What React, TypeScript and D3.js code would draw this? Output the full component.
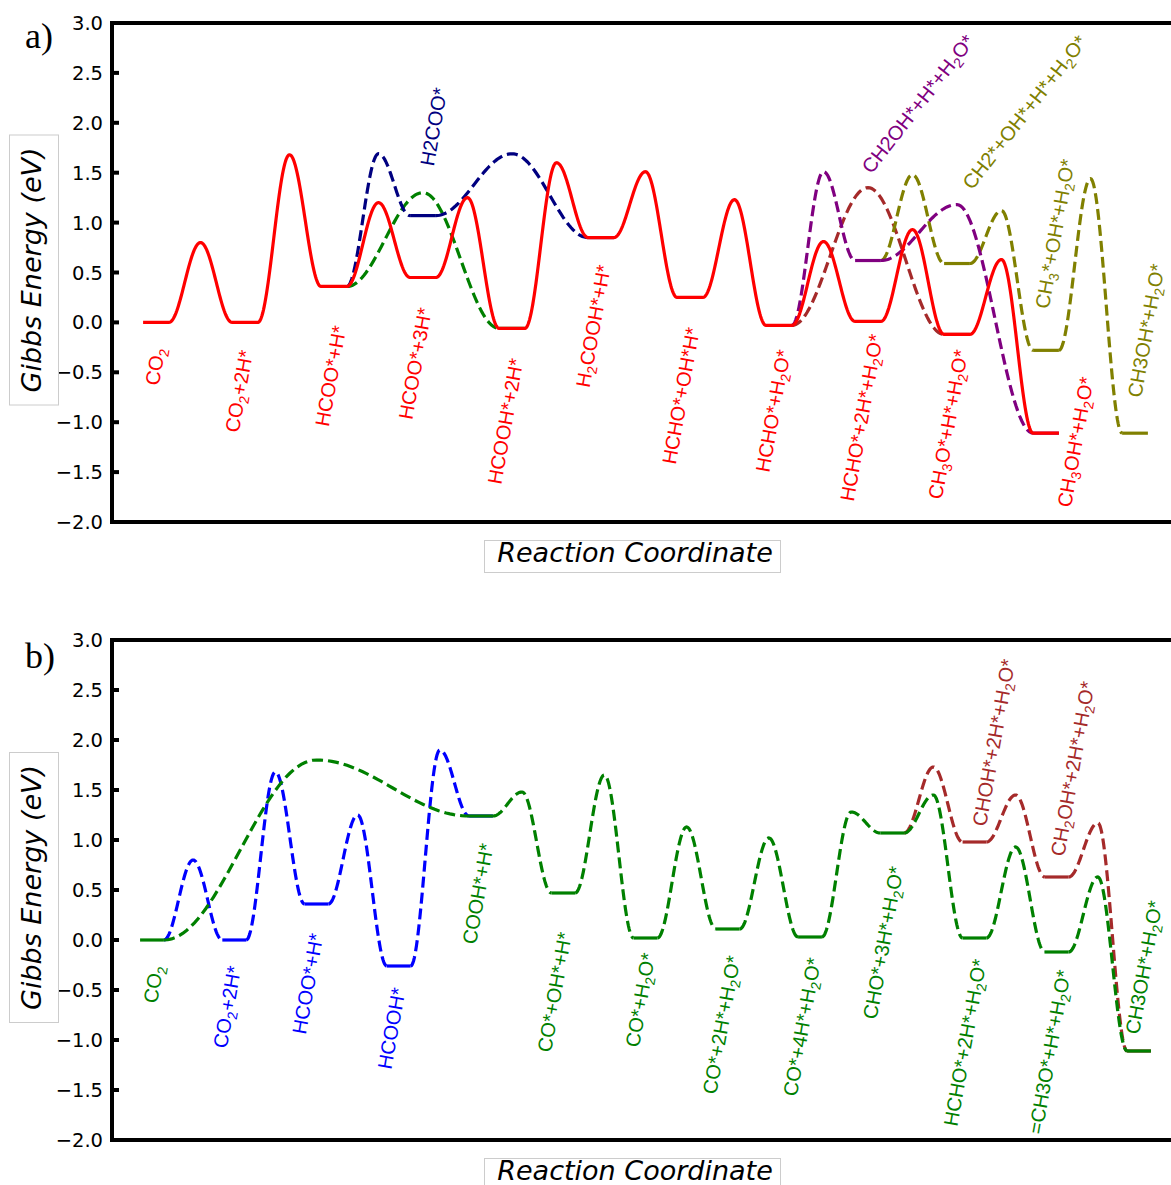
import React from 'react';
import * as d3 from 'd3';

const WIDTH = 1171;
const HEIGHT = 1185;

const COLORS: Record<string, string> = {
  red: '#ff0000',
  navy: '#000080',
  green: '#008000',
  purple: '#800080',
  brown: '#a52a2a',
  olive: '#808000',
  blue: '#0000ff',
};

// ---------- panel a) : positions on the reaction coordinate, state energies, barrier tops (eV)
const aRedPos = [0, 1, 2, 3, 4, 5, 6, 7, 8, 9, 10];
const aRedG = [0.0, 0.0, 0.36, 0.45, -0.06, 0.85, 0.25, -0.03, 0.01, -0.12, -1.11];
const aRedTS = [0.8, 1.68, 1.2, 1.25, 1.6, 1.51, 1.23, 0.81, 0.93, 0.63];

const aNavyPos = [2, 3, 5];
const aNavyG = [0.36, 1.07, 0.85];
const aNavyTS = [1.69, 1.69];

const aGreenPos = [2, 4];
const aGreenG = [0.36, -0.06];
const aGreenTS = [1.3];

const aPurplePos = [7, 8, 10];
const aPurpleG = [-0.03, 0.62, -1.11];
const aPurpleTS = [1.51, 1.18];

const aBrownPos = [7, 9];
const aBrownG = [-0.03, -0.12];
const aBrownTS = [1.35];

const aOlivePos = [8, 9, 10, 11];
const aOliveG = [0.62, 0.59, -0.28, -1.11];
const aOliveTS = [1.48, 1.12, 1.44];

// label: text (_n = subscript), x, y (data coords), colour, rotation
const aLabels: [string, number, number, string, number][] = [
  ['CO_2', 0.03, -0.64, 'red', 80],
  ['CO_2+2H*', 0.93, -1.11, 'red', 80],
  ['HCOO*+H*', 1.94, -1.05, 'red', 80],
  ['HCOO*+3H*', 2.88, -0.98, 'red', 80],
  ['HCOOH*+2H*', 3.88, -1.63, 'red', 80],
  ['H_2COOH*+H*', 4.87, -0.66, 'red', 80],
  ['HCHO*+OH*H*', 5.84, -1.43, 'red', 80],
  ['HCHO*+H_2O*', 6.89, -1.51, 'red', 80],
  ['HCHO*+2H*+H_2O*', 7.84, -1.8, 'red', 80],
  ['CH_3O*+H*+H_2O*', 8.83, -1.78, 'red', 80],
  ['CH_3OH*+H_2O*', 10.28, -1.86, 'red', 80],
  ['H2COO*', 3.12, 1.56, 'navy', 80],
  ['CH2OH*+H*+H_2O*', 8.04, 1.48, 'purple', 52],
  ['CH2*+OH*+H*+H_2O*', 9.17, 1.32, 'olive', 52],
  ['CH_3*+OH*+H_2O*', 10.03, 0.13, 'olive', 80],
  ['CH3OH*+H_2O*', 11.07, -0.76, 'olive', 80],
];

// ---------- panel b)
const bGreenPos = [0, 4, 5, 6, 7, 8, 9, 10, 11, 12];
const bGreenG = [0.0, 1.24, 0.47, 0.02, 0.11, 0.03, 1.07, 0.02, -0.12, -1.11];
const bGreenTS = [1.8, 1.48, 1.65, 1.13, 1.02, 1.28, 1.45, 0.93, 0.63];

const bBluePos = [0, 1, 2, 3, 4];
const bBlueG = [0.0, 0.0, 0.36, -0.26, 1.24];
const bBlueTS = [0.8, 1.68, 1.25, 1.9];

const bBrownPos = [9, 10, 11, 12];
const bBrownG = [1.07, 0.98, 0.63, -1.11];
const bBrownTS = [1.73, 1.45, 1.17];

const bLabels: [string, number, number, string, number][] = [
  ['CO_2', 0.06, -0.64, 'green', 80],
  ['CO_2+2H*', 0.91, -1.09, 'blue', 80],
  ['HCOO*+H*', 1.87, -0.95, 'blue', 80],
  ['HCOOH*', 2.91, -1.3, 'blue', 80],
  ['COOH*+H*', 3.94, -0.05, 'green', 80],
  ['CO*+OH*+H*', 4.85, -1.13, 'green', 80],
  ['CO*+H_2O*', 5.92, -1.08, 'green', 80],
  ['CO*+2H*+H_2O*', 6.86, -1.55, 'green', 80],
  ['CO*+4H*+H_2O*', 7.84, -1.57, 'green', 80],
  ['CHO*+3H*+H_2O*', 8.81, -0.8, 'green', 80],
  ['HCHO*+2H*+H_2O*', 9.79, -1.87, 'green', 80],
  ['=CH3O*+H*+H_2O*', 10.82, -1.95, 'green', 80],
  ['CH3OH*+H_2O*', 12.0, -0.95, 'green', 80],
  ['CHOH*+2H*+H_2O*', 10.14, 1.13, 'brown', 80],
  ['CH_2OH*+2H*+H_2O*', 11.09, 0.83, 'brown', 80],
];

const yTicks = [-2.0, -1.5, -1.0, -0.5, 0.0, 0.5, 1.0, 1.5, 2.0, 2.5, 3.0];

type Series = {
  pos: number[];
  g: number[];
  ts: number[];
  color: string;
  dashed: boolean;
  branch: boolean; // starts on a plateau that belongs to another pathway
};

const HALF = 0.145; // half width of a plateau, in reaction coordinate units

// cosine-shaped hump from one level up to the barrier top and down to the next level
function transitions(s: Series) {
  const out: [number, number][][] = [];
  for (let k = 0; k < s.ts.length; k++) {
    const xa = s.pos[k] + HALF;
    const xb = s.pos[k + 1] - HALF;
    const xm = (xa + xb) / 2;
    const a = s.g[k];
    const b = s.g[k + 1];
    const p = s.ts[k];
    const pts: [number, number][] = [];
    const n = 40;
    for (let j = 0; j <= n; j++) {
      const t = j / n;
      pts.push([xa + (xm - xa) * t, a + ((p - a) * (1 - Math.cos(Math.PI * t))) / 2]);
    }
    for (let j = 1; j <= n; j++) {
      const t = j / n;
      pts.push([xm + (xb - xm) * t, p + ((b - p) * (1 - Math.cos(Math.PI * t))) / 2]);
    }
    out.push(pts);
  }
  return out;
}

function rich(s: string, size: number) {
  const parts = s.split(/(_\d)/).filter((p) => p !== '');
  const shift = size * 0.22;
  let prevSub = false;
  return parts.map((p, i) => {
    if (p.startsWith('_')) {
      prevSub = true;
      return (
        <tspan key={i} fontSize={size * 0.7} dy={shift}>
          {p.slice(1)}
        </tspan>
      );
    }
    const dy = prevSub ? -shift : 0;
    prevSub = false;
    return (
      <tspan key={i} dy={dy}>
        {p}
      </tspan>
    );
  });
}

type PanelProps = {
  x: d3.ScaleLinear<number, number>;
  y: d3.ScaleLinear<number, number>;
  series: Series[];
  labels: [string, number, number, string, number][];
  letter: string;
  letterY: number;
};

function Panel({ x, y, series, labels, letter, letterY }: PanelProps) {
  const line = d3
    .line<[number, number]>()
    .x((d) => x(d[0]))
    .y((d) => y(d[1]));
  const [yBot, yTop] = y.range();
  const xLeft = 112;
  const fmt = d3.format('.1f');
  const yc = (yTop + yBot) / 2 - 2.5;

  return (
    <g>
      {series.map((s, si) => {
        const tr = transitions(s);
        if (!s.dashed) {
          // one continuous solid line: plateaus + humps
          const pts: [number, number][] = [];
          s.pos.forEach((p, k) => {
            pts.push([p - HALF, s.g[k]]);
            if (k < tr.length) pts.push(...tr[k]);
            else pts.push([p + HALF, s.g[k]]);
          });
          return (
            <path
              key={si}
              d={line(pts) || ''}
              fill="none"
              stroke={s.color}
              strokeWidth={3.2}
              strokeLinejoin="round"
            />
          );
        }
        const own = s.pos.map((p, k) => ({ p, g: s.g[k] })).slice(s.branch ? 1 : 0);
        return (
          <g key={si}>
            {tr.map((pts, k) => (
              <path
                key={'t' + k}
                d={line(pts) || ''}
                fill="none"
                stroke={s.color}
                strokeWidth={3.2}
                strokeDasharray="11,5"
              />
            ))}
            {own.map((d, k) => (
              <line
                key={'p' + k}
                x1={x(d.p - HALF)}
                x2={x(d.p + HALF)}
                y1={y(d.g)}
                y2={y(d.g)}
                stroke={s.color}
                strokeWidth={3.2}
              />
            ))}
          </g>
        );
      })}

      {labels.map(([t, lx, ly, c, r], i) => (
        <text
          key={i}
          transform={`translate(${x(lx)},${y(ly)}) rotate(${-r})`}
          fill={COLORS[c]}
          fontFamily="'Liberation Sans', Arial, sans-serif"
          fontSize={20}
        >
          {rich(t, 20)}
        </text>
      ))}

      {/* axes frame */}
      <line x1={xLeft} x2={WIDTH + 10} y1={yTop} y2={yTop} stroke="#000" strokeWidth={4} />
      <line x1={xLeft} x2={WIDTH + 10} y1={yBot} y2={yBot} stroke="#000" strokeWidth={4} />
      <line x1={xLeft} x2={xLeft} y1={yTop - 2} y2={yBot + 2} stroke="#000" strokeWidth={4} />
      {yTicks.map((v) => (
        <g key={v}>
          <line x1={xLeft} x2={xLeft + 7} y1={y(v)} y2={y(v)} stroke="#000" strokeWidth={4} />
          <text
            x={103}
            y={y(v) + 7}
            textAnchor="end"
            fontFamily="'DejaVu Sans', sans-serif"
            fontSize={19.5}
            fill="#000"
          >
            {fmt(v)}
          </text>
        </g>
      ))}

      {/* y label */}
      <rect x={9.5} y={yc - 135} width={49} height={270} fill="#fff" stroke="#cccccc" strokeWidth={1} />
      <text
        transform={`translate(41,${yc}) rotate(-90)`}
        textAnchor="middle"
        fontFamily="'DejaVu Sans', sans-serif"
        fontStyle="italic"
        fontSize={27}
        fill="#000"
      >
        Gibbs Energy (eV)
      </text>

      {/* x label */}
      <rect x={484.5} y={yBot + 18.5} width={296} height={32} fill="#fff" stroke="#cccccc" strokeWidth={1} />
      <text
        x={635}
        y={yBot + 40}
        textAnchor="middle"
        fontFamily="'DejaVu Sans', sans-serif"
        fontStyle="italic"
        fontSize={27}
        fill="#000"
      >
        Reaction Coordinate
      </text>

      <text x={25} y={letterY} fontFamily="'Liberation Serif', 'Times New Roman', serif" fontSize={36} fill="#000">
        {letter}
      </text>
    </g>
  );
}

export default function App() {
  const xA = d3.scaleLinear().domain([0, 11]).range([156, 1135]);
  const yA = d3.scaleLinear().domain([-2, 3]).range([522, 23]);
  const xB = d3.scaleLinear().domain([0, 12]).range([152, 1139]);
  const yB = d3.scaleLinear().domain([-2, 3]).range([1140, 640]);

  const seriesA: Series[] = [
    { pos: aGreenPos, g: aGreenG, ts: aGreenTS, color: COLORS.green, dashed: true, branch: true },
    { pos: aNavyPos, g: aNavyG, ts: aNavyTS, color: COLORS.navy, dashed: true, branch: true },
    { pos: aBrownPos, g: aBrownG, ts: aBrownTS, color: COLORS.brown, dashed: true, branch: true },
    { pos: aOlivePos, g: aOliveG, ts: aOliveTS, color: COLORS.olive, dashed: true, branch: true },
    { pos: aPurplePos, g: aPurpleG, ts: aPurpleTS, color: COLORS.purple, dashed: true, branch: true },
    { pos: aRedPos, g: aRedG, ts: aRedTS, color: COLORS.red, dashed: false, branch: false },
  ];
  const seriesB: Series[] = [
    { pos: bBluePos, g: bBlueG, ts: bBlueTS, color: COLORS.blue, dashed: true, branch: true },
    { pos: bBrownPos, g: bBrownG, ts: bBrownTS, color: COLORS.brown, dashed: true, branch: true },
    { pos: bGreenPos, g: bGreenG, ts: bGreenTS, color: COLORS.green, dashed: true, branch: false },
  ];

  return (
    <svg
      width={WIDTH}
      height={HEIGHT}
      style={{ position: 'absolute', left: 0, top: 0, background: '#fff' }}
    >
      <rect width={WIDTH} height={HEIGHT} fill="#fff" />
      <Panel x={xA} y={yA} series={seriesA} labels={aLabels} letter="a)" letterY={48} />
      <Panel x={xB} y={yB} series={seriesB} labels={bLabels} letter="b)" letterY={668} />
    </svg>
  );
}
